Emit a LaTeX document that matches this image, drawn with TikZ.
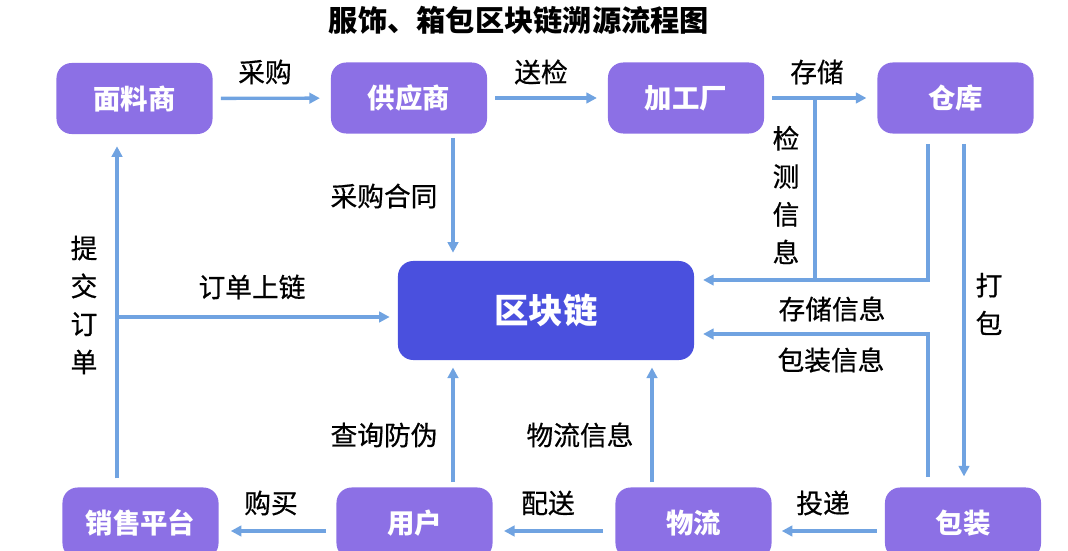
\documentclass[tikz,border=0pt]{standalone}
\usepackage{fontspec}
\setmainfont{Noto Sans CJK SC}
\newfontfamily\lblfont[FakeBold=0.6]{Noto Sans CJK SC}
\usepackage{tikz}
\usetikzlibrary{arrows.meta, positioning}
\definecolor{nodepurple}{HTML}{8C70E5}
\definecolor{chainblue}{HTML}{4A50DE}
\definecolor{linkblue}{HTML}{70A3E1}
\tikzstyle{block} = [rectangle, fill=nodepurple, text=white, rounded corners=0.38cm,
    minimum width=3.9cm, minimum height=1.775cm, font=\fontsize{19.5}{22}\selectfont\bfseries]
\tikzstyle{chain} = [block, fill=chainblue, minimum width=7.4cm, minimum height=2.475cm,
    font=\fontsize{24.5}{28}\selectfont\bfseries]
\tikzstyle{line} = [draw=linkblue, line width=2.4pt, -{Triangle[length=7.5pt,width=7.5pt]},
    shorten <=0.2cm, shorten >=0.27cm]
\tikzstyle{plain} = [draw=linkblue, line width=2.4pt]
\tikzstyle{lbl} = [font=\lblfont\fontsize{19}{27}\selectfont, align=center, inner sep=1pt]

\begin{document}
\begin{tikzpicture}[x=0.025cm, y=-0.025cm]
      \useasboundingbox (0,0) rectangle (1068,551);
      \clip (0,0) rectangle (1068,551);
      % Title
      \node [font=\fontsize{20.8}{24}\selectfont\bfseries] (title) at (519,20) {服饰、箱包区块链溯源流程图};
      % Supply side
      \node [block] (fabric) at (134.5,98.5) {面料商};
      \node [block] (supplier) at (409,98) {供应商};
      \node [block] (factory) at (686,98) {加工厂};
      \node [block] (warehouse) at (955.5,98) {仓库};
      % Blockchain
      \node [chain] (chain) at (546,310.5) {区块链};
      % Sales side
      \node [block] (sales) at (140.5,523) {销售平台};
      \node [block] (user) at (414.5,523) {用户};
      \node [block] (logistics) at (693.5,523) {物流};
      \node [block] (pack) at (963,523) {包装};
      % Turning points
      \coordinate (order) at (117,317);
      \coordinate (query) at (453,0);
      \coordinate (track) at (652,0);
      \coordinate (tap) at (815,98);
      \coordinate (joinA) at (928,280);
      \coordinate (joinB) at (928,334);
      \coordinate (packx) at (964,0);
      \coordinate (low) at (0,531);
      % Draw edges
      \path [line] (fabric) -- (supplier);
      \path [line] (supplier) -- (factory);
      \path [line] (factory) -- (warehouse);
      \path [line, shorten <=0.1cm, shorten >=0.2cm] (supplier.south -| query) -- (chain.north -| query);
      \path [plain] (tap) -- (tap |- joinA);
      \path [line, shorten <=0.25cm, shorten >=0.22cm] (warehouse.south -| joinA) -- (joinA) -- (chain.east |- joinA);
      \path [line, shorten <=0.25cm, shorten >=0.22cm] (pack.north -| joinB) -- (joinB) -- (chain.east |- joinB);
      \path [line, shorten <=0.25cm] (warehouse.south -| packx) -- (pack.north -| packx);
      \path [line, shorten <=0.22cm, shorten >=0.3cm] (sales.north -| order) -- (fabric.south -| order);
      \path [plain, -{Triangle[length=7.5pt,width=7.5pt]}, shorten >=0.2cm] (order) -- (chain.west |- order);
      \path [line, shorten <=0.125cm, shorten >=0.18cm] (user.north -| query) -- (chain.south -| query);
      \path [line, shorten <=0.125cm, shorten >=0.18cm] (logistics.north -| track) -- (chain.south -| track);
      \path [line, shorten <=0.25cm, shorten >=0.3cm] (user.west |- low) -- (sales.east |- low);
      \path [line, shorten <=0.3cm, shorten >=0.28cm] (logistics.west |- low) -- (user.east |- low);
      \path [line, shorten <=0.2cm, shorten >=0.25cm] (pack.west |- low) -- (logistics.east |- low);
      % Edge labels
      \node [lbl] (buy1) at (265,72) {采购};
      \node [lbl] (check) at (541,72) {送检};
      \node [lbl] (store) at (817,72) {存储};
      \node [lbl] (inspect) at (786,195) {检\\测\\信\\息};
      \node [lbl] (contract) at (384,196) {采购合同};
      \node [lbl] (submit) at (84,305) {提\\交\\订\\单};
      \node [lbl] (upload) at (252,287) {订单上链};
      \node [lbl] (storeinfo) at (832,309) {存储信息};
      \node [lbl] (packinfo) at (831,360) {包装信息};
      \node [lbl] (bundle) at (989,304) {打\\包};
      \node [lbl] (antifake) at (384,435) {查询防伪};
      \node [lbl] (trackinfo) at (580,435) {物流信息};
      \node [lbl] (buy2) at (271,503) {购买};
      \node [lbl] (deliver) at (548,503) {配送};
      \node [lbl] (post) at (823,503) {投递};
\end{tikzpicture}
\end{document}
